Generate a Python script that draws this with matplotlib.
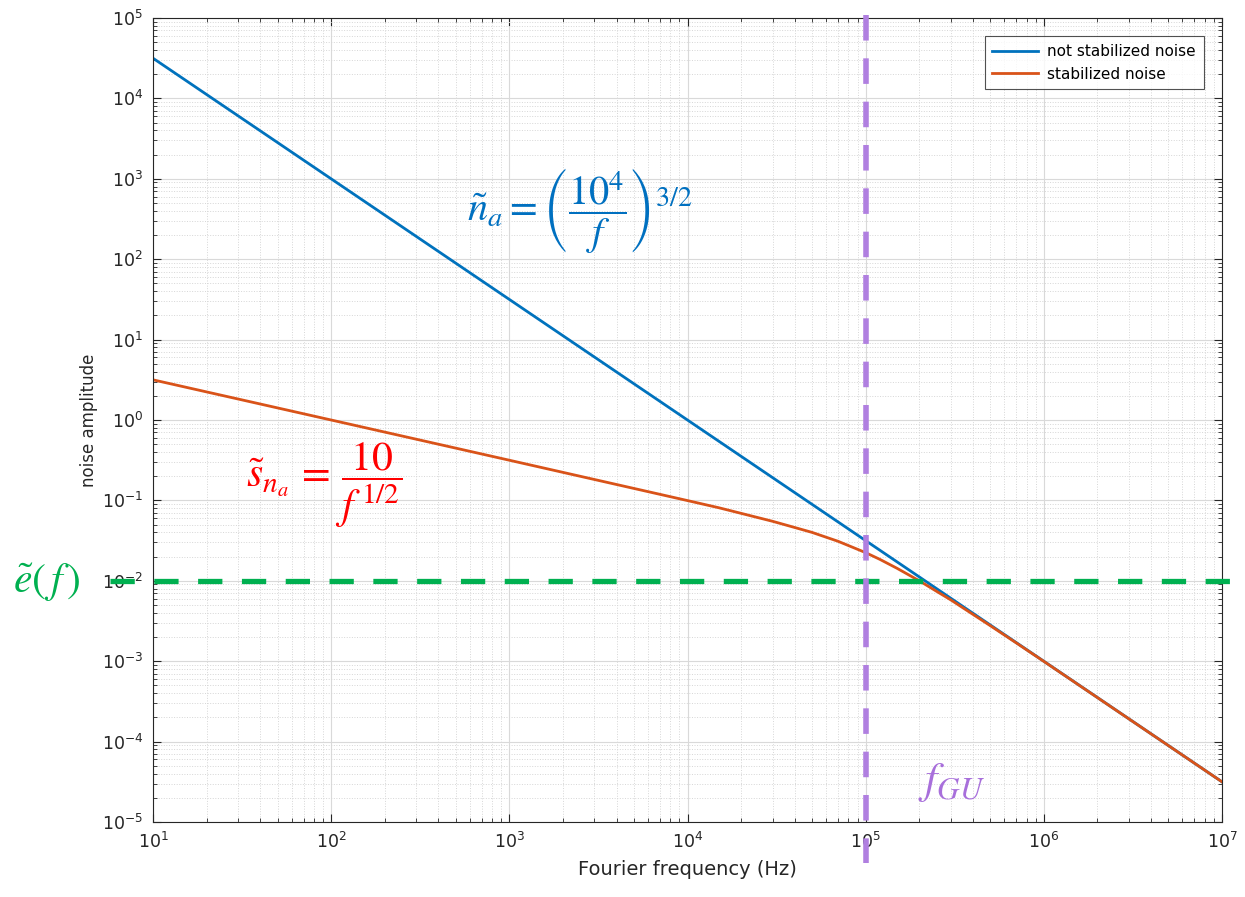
"""Noise amplitude vs Fourier frequency, stabilized and not stabilized."""

import matplotlib

matplotlib.use("Agg")
import matplotlib.pyplot as plt  # noqa: E402
import matplotlib.transforms as mtransforms  # noqa: E402
from matplotlib.ticker import LogLocator, NullFormatter  # noqa: E402

plt.rcParams["font.family"] = ["DejaVu Sans"]
plt.rcParams["axes.unicode_minus"] = False

# values
freq_free = [1e1, 1e7]
noise_free = [3.16e4, 3.16e-5]

freq_stab = [1e1, 1e2, 1e3, 1e4, 1.5e4, 2e4, 3e4, 4e4, 5e4, 7e4, 1e5, 1.2e5, 1.5e5,
             2e5, 2.5e5, 3e5, 5e5, 7e5, 1e6, 1e7]
noise_stab = [3.16, 1.0, 0.316, 0.0995, 0.081, 0.069, 0.055, 0.046, 0.040, 0.031,
              0.0224, 0.0185, 0.0143, 0.0100, 0.0074, 0.0058, 0.00277, 0.00169,
              0.000995, 3.16e-5]

error_level = 1e-2
f_gu = 1e5

BLUE = "#0072BD"
ORANGE = "#D95319"

W, H = 1245, 897
fig = plt.figure(figsize=(W / 100, H / 100), dpi=100)
ax = fig.add_axes([153 / W, 1 - 822 / H, (1222 - 153) / W, (822 - 18) / H])

ax.plot(freq_free, noise_free, color=BLUE, lw=2, label="not stabilized noise")
ax.plot(freq_stab, noise_stab, color=ORANGE, lw=2, label="stabilized noise")

ax.set_xscale("log")
ax.set_yscale("log")
ax.set_xlim(1e1, 1e7)
ax.set_ylim(1e-5, 1e5)

ax.xaxis.set_major_locator(LogLocator(base=10, numticks=20))
ax.yaxis.set_major_locator(LogLocator(base=10, numticks=20))
ax.xaxis.set_minor_locator(LogLocator(base=10, subs=range(2, 10), numticks=100))
ax.yaxis.set_minor_locator(LogLocator(base=10, subs=range(2, 10), numticks=100))
ax.xaxis.set_minor_formatter(NullFormatter())
ax.yaxis.set_minor_formatter(NullFormatter())

ax.grid(True, which="major", color="#d9d9d9", lw=0.8)
ax.grid(True, which="minor", color="#d6d6d6", lw=0.7, ls=":")
ax.set_axisbelow(True)

ax.tick_params(which="both", direction="in", top=True, right=True, colors="#262626",
               labelsize=12.5)
ax.tick_params(which="major", length=6, pad=7)
ax.tick_params(which="minor", length=3)
for sp in ax.spines.values():
    sp.set_color("#262626")

ax.set_xlabel("Fourier frequency (Hz)", fontsize=14, color="#262626", labelpad=6)
ax.set_ylabel("noise amplitude", fontsize=12, color="#262626", labelpad=3)

leg = ax.legend(loc="upper right", fontsize=11, frameon=True, fancybox=False,
                edgecolor="#262626", borderaxespad=1.2, handlelength=3.0,
                borderpad=0.5, labelspacing=0.5, handletextpad=0.6)
leg.get_frame().set_linewidth(0.8)

# reference levels, drawn past the axes edges like the original
ax.axhline(error_level, xmin=-0.04, xmax=1.017, color="#00B050", lw=3.8,
           dashes=(4.6, 3.7), clip_on=False, zorder=5)
vtrans = mtransforms.blended_transform_factory(ax.transData, ax.transAxes)
ax.plot([f_gu, f_gu], [1.004, -0.051], transform=vtrans, color="#B07FE0", lw=4,
        dashes=(4.6, 3.2), clip_on=False, zorder=5)

# annotations
def px(x, y):
    return x / W, 1 - y / H

fig.text(*px(580, 210), r"$\tilde{n}_a = \left(\dfrac{10^4}{f}\right)^{3/2}$",
         color="#0070C0", fontsize=29, ha="center", va="center", math_fontfamily="stix")
fig.text(*px(324, 485), r"$\tilde{s}_{n_a} \, = \, \dfrac{10}{f^{\,1/2}}$",
         color="#FF0000", fontsize=30, ha="center", va="center", math_fontfamily="stix")
fig.text(*px(952, 782), r"$f_{GU}$", color="#A86FDB", fontsize=32,
         ha="center", va="center", math_fontfamily="stix")
fig.text(*px(47, 582), r"$\tilde{e}(\,f\,)$", color="#00B050", fontsize=30,
         ha="center", va="center", math_fontfamily="stix")

fig.savefig("out.png", dpi=100)
